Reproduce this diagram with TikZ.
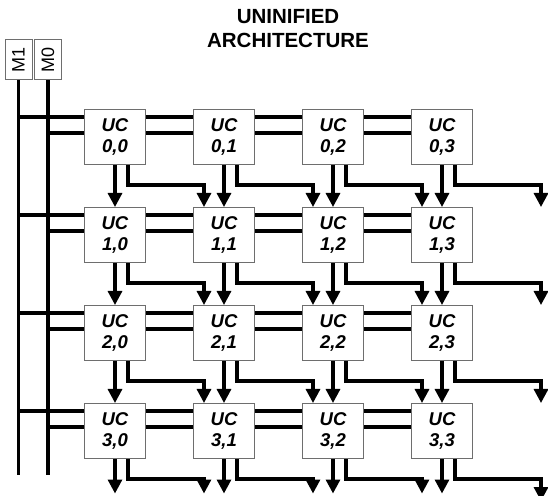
\documentclass[tikz,border=0pt]{standalone}
\usepackage{fontspec}
\setmainfont{Liberation Sans}
\usetikzlibrary{arrows.meta,calc}
\definecolor{frame}{RGB}{110,110,110}
\tikzset{
  ucbox/.style={draw=frame,line width=1pt,fill=white,minimum width=61pt,minimum height=55pt,inner sep=0pt,align=center,font=\fontsize{18.5}{21}\selectfont\bfseries\itshape},
  ghost/.style={ucbox,draw=none,fill=none},
  mlab/.style={draw=frame,line width=1pt,fill=white,minimum width=40pt,minimum height=27pt,inner sep=0pt,rotate=90,font=\fontsize{18}{18}\selectfont},
  bus/.style={line width=3.2pt},
  arr/.style={line width=3.2pt,-{Triangle[length=14pt,width=14pt]}},
  title/.style={align=center,font=\fontsize{20.5}{24}\selectfont\bfseries}
}
\begin{document}
\begin{tikzpicture}[x=1pt,y=1pt]
  \useasboundingbox (0,0) rectangle (548,495);
  \node[title] (head) at (288,466) {UNINIFIED\\ARCHITECTURE};
  \node[mlab] (m1) at (18.5,435) {M1};
  \node[mlab] (m0) at (48,435) {M0};
  \coordinate (m1end) at (18.5,20);
  \coordinate (m0end) at (48,20);
  \draw[bus] (m1.west) -- (m1end);
  \draw[bus] (m0.west) -- (m0end);

  \foreach \r in {0,...,3}{
    \foreach \c in {0,...,3}{
      \node[ucbox] (uc-\r-\c) at (115+109*\c,358-98*\r) {UC\\\r,\c};
    }
  }
  \foreach \r in {0,...,4}{\node[ghost] (uc-\r-4) at (561,358-98*\r) {};}
  \foreach \c in {0,...,3}{\node[ghost] (uc-4-\c) at (115+109*\c,-26.5) {};}

  \foreach \r in {0,...,3}{
    \coordinate (hi-\r) at ([yshift=20pt]uc-\r-0.west);
    \coordinate (lo-\r) at ([yshift=4pt]uc-\r-0.west);
    \draw[bus] (m1end |- hi-\r) -- (hi-\r);
    \draw[bus] (m0end |- lo-\r) -- (lo-\r);
    \foreach \c in {0,...,2}{
      \pgfmathtruncatemacro\cn{\c+1}
      \draw[bus] ([yshift=20pt]uc-\r-\c.east) -- ([yshift=20pt]uc-\r-\cn.west);
      \draw[bus] ([yshift=4pt]uc-\r-\c.east) -- ([yshift=4pt]uc-\r-\cn.west);
    }
  }

  \foreach \r in {0,...,3}{
    \foreach \c in {0,...,3}{
      \pgfmathtruncatemacro\rn{\r+1}
      \pgfmathtruncatemacro\cn{\c+1}
      \draw[arr] (uc-\r-\c.south) -- (uc-\rn-\c.north);
      \draw[arr] ([xshift=13pt]uc-\r-\c.south) -- ++(0,-20) -| ([xshift=-20pt]uc-\rn-\cn.north);
    }
  }
\end{tikzpicture}
\end{document}
